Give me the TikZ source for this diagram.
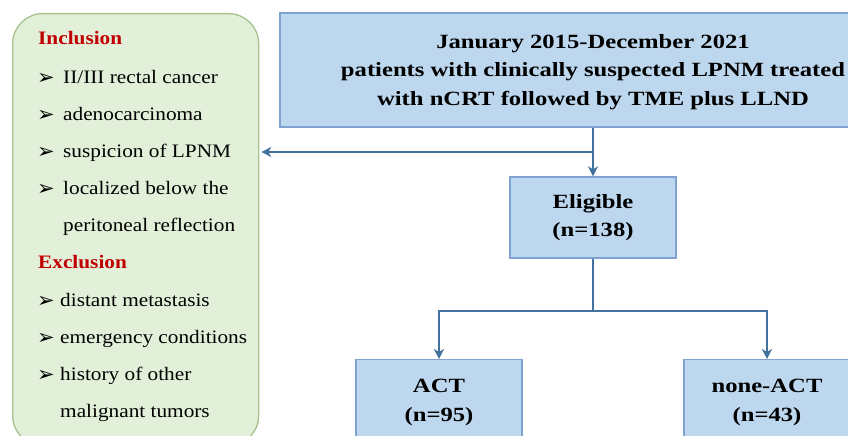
\documentclass[tikz,border=0pt]{standalone}
\usepackage{fontspec}
\setmainfont{Liberation Serif}[FakeStretch=1.12]
\newfontfamily\boxfont{Liberation Serif}[FakeStretch=1.22]
\newfontfamily\dejavu{DejaVu Sans}
\usetikzlibrary{arrows.meta}
\definecolor{boxfill}{HTML}{BDD7EE}
\definecolor{boxline}{HTML}{7FA3CE}
\definecolor{connc}{HTML}{41719C}
\definecolor{greenfill}{HTML}{E2F0D9}
\definecolor{greenline}{HTML}{A6C28F}
\definecolor{critred}{HTML}{C00000}
\tikzset{
  bluebox/.style={draw=boxline, fill=boxfill, line width=1.3pt, align=center, inner sep=0pt,
    font=\boxfont\fontsize{20.2}{28.5}\selectfont\bfseries},
  greenbox/.style={draw=greenline, fill=greenfill, line width=1.3pt, rounded corners=30pt, inner sep=0pt},
  conn/.style={draw=connc, line width=2pt, -{Stealth[length=10pt,width=10pt,inset=3pt]}},
  plain/.style={draw=connc, line width=2pt},
  crittext/.style={anchor=base west, inner sep=0pt, font=\fontsize{19}{23}\selectfont},
  crithead/.style={anchor=base west, inner sep=0pt, font=\fontsize{19}{23}\selectfont\bfseries, text=critred},
  bul/.style={anchor=base west, inner sep=0pt, font=\dejavu\fontsize{21}{24}\selectfont}
}
\begin{document}
\begin{tikzpicture}[x=1pt,y=-1pt]
\useasboundingbox (0,0) rectangle (848,436);
\begin{scope}
\clip (0,0) rectangle (848,436);
% green criteria box
\node[greenbox, anchor=north west, minimum width=246pt, minimum height=432pt] (crit) at (12,13) {};
% top box
\node[bluebox, minimum width=626pt, minimum height=114pt] (top) at (593,70)
  {\rule{0pt}{18pt}January 2015-December 2021\\patients with clinically suspected LPNM treated\\with nCRT followed by TME plus LLND};
\node[bluebox, minimum width=166pt, minimum height=81pt] (elig) at (593,217.5) {Eligible\\(n=138)};
\node[bluebox, minimum width=166pt, minimum height=86pt, anchor=north] (act) at (439,359) {ACT\\(n=95)};
\node[bluebox, minimum width=166pt, minimum height=86pt, anchor=north] (none) at (767,359) {none-ACT\\(n=43)};
\end{scope}
% criteria text
\node[crithead] (inc) at (38,45) {Inclusion};
\node[bul] (b1) at (37,84) {➢};
\node[crittext] (i1) at (63,83) {II/III rectal cancer};
\node[bul] (b2) at (37,121) {➢};
\node[crittext] (i2) at (63,120) {adenocarcinoma};
\node[bul] (b3) at (37,158) {➢};
\node[crittext] (i3) at (63,157) {suspicion of LPNM};
\node[bul] (b4) at (37,195) {➢};
\node[crittext] (i4) at (63,194) {localized below the};
\node[crittext] (i5) at (63,231) {peritoneal reflection};
\node[crithead] (exc) at (38,268) {Exclusion};
\node[bul] (b6) at (37,307) {➢};
\node[crittext] (e1) at (60,306) {distant metastasis};
\node[bul] (b7) at (37,344) {➢};
\node[crittext] (e2) at (60,343) {emergency conditions};
\node[bul] (b8) at (37,381) {➢};
\node[crittext] (e3) at (60,380) {history of other};
\node[crittext] (e4) at (60,417) {malignant tumors};
% connectors
\coordinate (j1) at (593,152);
\coordinate (j2) at (593,311);
\draw[plain] (top.south) -- (j1);
\draw[conn] (j1) -- (elig.north);
\draw[conn, shorten >=2pt] (j1) -- (crit.east |- j1);
\draw[plain] (elig.south) -- (j2);
\draw[conn] (j2) -| (act.north);
\draw[conn] (j2) -| (none.north);
\end{tikzpicture}
\end{document}
